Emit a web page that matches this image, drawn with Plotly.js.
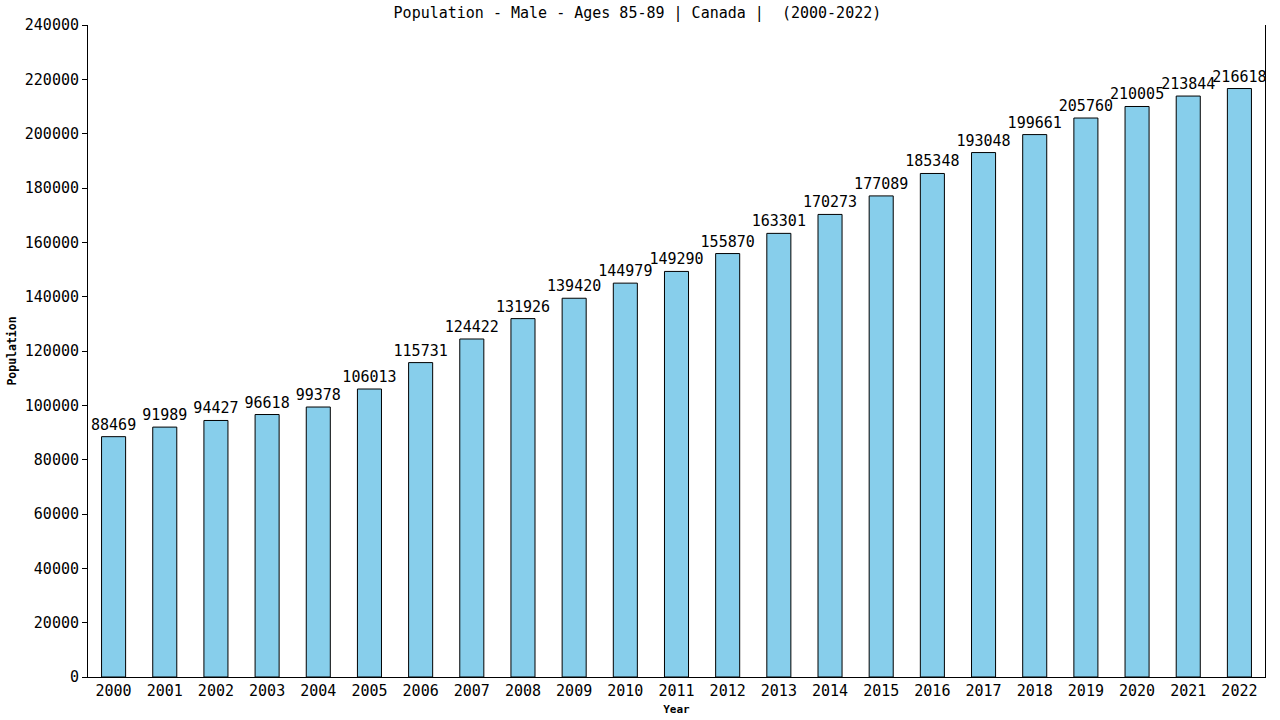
<!DOCTYPE html>
<html><head><meta charset="utf-8">
<script src="https://cdn.plot.ly/plotly-3.0.1.min.js"></script>
<style>html,body{margin:0;padding:0;background:#fff}#chart{width:1280px;height:720px}</style>
</head><body><div id="chart"></div>
<script>
const years = ["2000","2001","2002","2003","2004","2005","2006","2007","2008","2009","2010","2011","2012","2013","2014","2015","2016","2017","2018","2019","2020","2021","2022"];
const population = [88469,91989,94427,96618,99378,106013,115731,124422,131926,139420,144979,149290,155870,163301,170273,177089,185348,193048,199661,205760,210005,213844,216618];
const yTicks = [0,20000,40000,60000,80000,100000,120000,140000,160000,180000,200000,220000,240000];

const FONT = "DejaVu Sans Mono, monospace";
const trace = {
  type: "bar",
  x: years,
  y: population,
  text: population.map(String),
  textposition: "outside",
  constraintext: "none",
  cliponaxis: false,
  textfont: {family: FONT, size: 15, color: "#000"},
  marker: {color: "#87ceeb", line: {color: "#000", width: 1}},
  hoverinfo: "none"
};
const layout = {
  width: 1280, height: 720,
  margin: {l: 88, r: 15, t: 25, b: 43},
  paper_bgcolor: "#fff", plot_bgcolor: "#fff",
  bargap: 0.53,
  showlegend: false,
  title: {text: "Population - Male - Ages 85-89 | Canada |  (2000-2022)", x: 0.498, xanchor: "center", y: 0.982, yanchor: "middle", font: {family: FONT, size: 15, color: "#000"}},
  xaxis: {
    type: "category", range: [-0.5, 22.5],
    showline: true, linecolor: "#000", linewidth: 1,
    ticks: "", showgrid: false, zeroline: false,
    tickfont: {family: FONT, size: 15, color: "#000"},
    title: {text: "<b>Year</b>", font: {family: FONT, size: 11, color: "#000"}, standoff: 6}
  },
  yaxis: {
    range: [0, 240000], tickvals: yTicks, ticktext: yTicks.map(String),
    showline: true, linecolor: "#000", linewidth: 1, mirror: true,
    ticks: "outside", ticklen: 5, tickcolor: "#000",
    showgrid: false, zeroline: false,
    tickfont: {family: FONT, size: 15, color: "#000"},
    title: {text: "<b>Population</b>", font: {family: FONT, size: 11.5, color: "#000"}, standoff: 5}
  }
};
Plotly.newPlot("chart", [trace], layout, {displayModeBar: false, staticPlot: true});
</script></body></html>
